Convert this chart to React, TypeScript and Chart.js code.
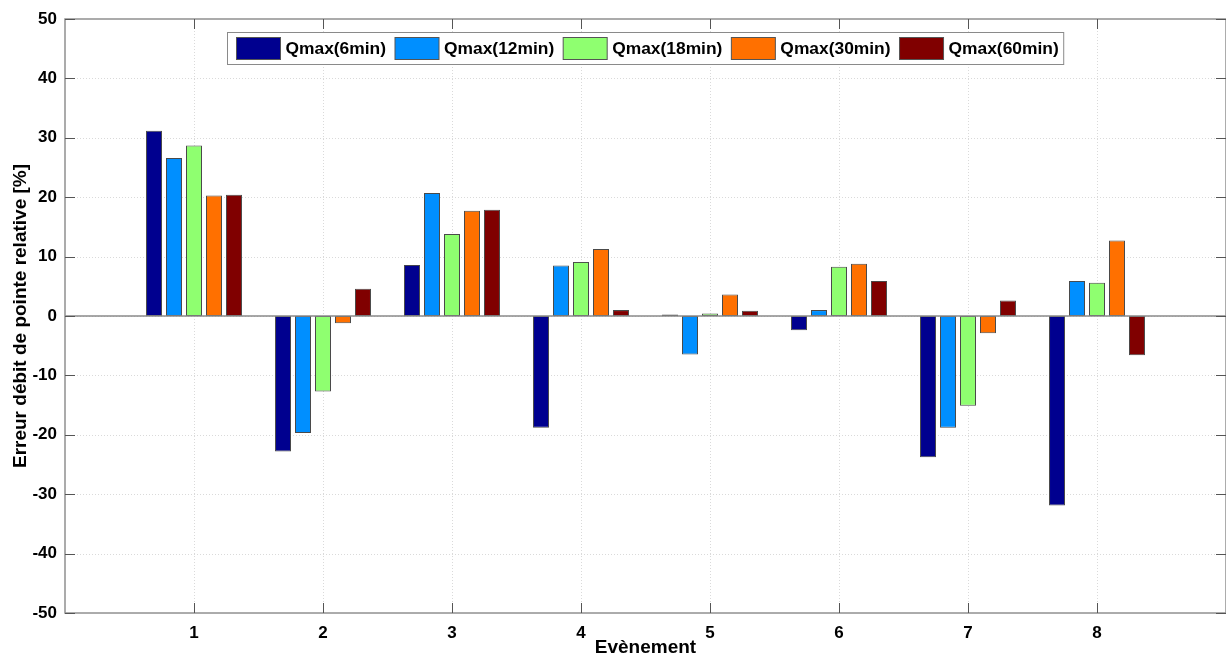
import React, { useEffect, useRef } from "react";
import { Chart, registerables } from "chart.js";

Chart.register(...registerables);

const events = [1, 2, 3, 4, 5, 6, 7, 8];
const seriesLabels = ["Qmax(6min)", "Qmax(12min)", "Qmax(18min)", "Qmax(30min)", "Qmax(60min)"];
const q6 = [31.2, -22.8, 8.6, -18.8, 0.25, -2.4, -23.8, -31.9];
const q12 = [26.6, -19.7, 20.7, 8.5, -6.5, 1.0, -18.8, 5.9];
const q18 = [28.7, -12.7, 13.8, 9.1, 0.4, 8.3, -15.1, 5.6];
const q30 = [20.3, -1.2, 17.7, 11.3, 3.6, 8.8, -2.9, 12.7];
const q60 = [20.4, 4.6, 17.9, 1.0, 0.9, 5.9, 2.6, -6.6];
const colors = ["#00008F", "#008FFF", "#8FFF70", "#FF7000", "#800000"];
const yTicks = [-50, -40, -30, -20, -10, 0, 10, 20, 30, 40, 50];

const FONT = "'Liberation Sans', Arial, sans-serif";

const framePlugin = {
  id: "frame",
  beforeDatasetsDraw(chart: any) {
    const { ctx, chartArea: a, scales } = chart;
    const x = scales.x, y = scales.y;
    ctx.save();
    ctx.strokeStyle = "#dadada";
    ctx.lineWidth = 1;
    ctx.setLineDash([1, 2]);
    yTicks.forEach((v) => {
      if (v === -50 || v === 50) return;
      const py = Math.round(y.getPixelForValue(v)) + 0.5;
      ctx.beginPath();
      ctx.moveTo(a.left, py);
      ctx.lineTo(a.right, py);
      ctx.stroke();
    });
    events.forEach((v) => {
      const px = Math.round(x.getPixelForValue(v)) + 0.5;
      ctx.beginPath();
      ctx.moveTo(px, a.top);
      ctx.lineTo(px, a.bottom);
      ctx.stroke();
    });
    ctx.restore();
  },
  afterDatasetsDraw(chart: any) {
    const { ctx, chartArea: a, scales } = chart;
    const x = scales.x, y = scales.y;
    ctx.save();
    // zero baseline
    ctx.strokeStyle = "#8a8a8a";
    ctx.lineWidth = 1.5;
    const p0 = y.getPixelForValue(0);
    ctx.beginPath();
    ctx.moveTo(a.left, p0);
    ctx.lineTo(a.right, p0);
    ctx.stroke();
    // box
    ctx.strokeStyle = "#909090";
    ctx.lineWidth = 1.5;
    ctx.strokeRect(a.left, a.top, a.right - a.left, a.bottom - a.top);
    // tick marks
    ctx.strokeStyle = "#555";
    ctx.lineWidth = 1;
    yTicks.forEach((v) => {
      const py = Math.round(y.getPixelForValue(v)) + 0.5;
      ctx.beginPath();
      ctx.moveTo(a.left, py);
      ctx.lineTo(a.left + 10, py);
      ctx.moveTo(a.right, py);
      ctx.lineTo(a.right - 10, py);
      ctx.stroke();
    });
    events.forEach((v) => {
      const px = Math.round(x.getPixelForValue(v)) + 0.5;
      ctx.beginPath();
      ctx.moveTo(px, a.bottom);
      ctx.lineTo(px, a.bottom - 10);
      ctx.moveTo(px, a.top);
      ctx.lineTo(px, a.top + 10);
      ctx.stroke();
    });
    // legend
    ctx.font = `bold 17.4px ${FONT}`;
    const padL = 9, padR = 5, sw = 44, sh = 22, gap = 5, itemGap = 9;
    const widths = seriesLabels.map((l) => ctx.measureText(l).width);
    let total = padL + padR;
    widths.forEach((w, i) => {
      total += sw + gap + w + (i < widths.length - 1 ? itemGap : 0);
    });
    const bx = Math.round((a.left + a.right) / 2 - total / 2) + 0.5;
    const by = a.top + 13.5;
    const bh = 32;
    ctx.fillStyle = "#ffffff";
    ctx.fillRect(bx, by, total, bh);
    ctx.strokeStyle = "#8a8a8a";
    ctx.lineWidth = 1;
    ctx.strokeRect(bx, by, total, bh);
    let cx = bx + padL;
    seriesLabels.forEach((l, i) => {
      ctx.fillStyle = colors[i];
      ctx.fillRect(cx, by + 5, sw, sh);
      ctx.strokeStyle = "#555";
      ctx.strokeRect(cx, by + 5, sw, sh);
      ctx.fillStyle = "#000";
      ctx.textBaseline = "middle";
      ctx.textAlign = "left";
      ctx.fillText(l, cx + sw + gap, by + bh / 2 + 1);
      cx += sw + gap + widths[i] + itemGap;
    });
    ctx.restore();
  },
};

export default function App() {
  const ref = useRef<HTMLCanvasElement | null>(null);
  useEffect(() => {
    if (!ref.current) return;
    Chart.defaults.font.family = FONT;
    const all = [q6, q12, q18, q30, q60];
    const chart = new Chart(ref.current, {
      type: "bar",
      data: {
        datasets: all.map((vals, i) => ({
          label: seriesLabels[i],
          data: vals.map((v, j) => ({ x: events[j], y: v })),
          backgroundColor: colors[i],
          borderColor: "#4a4a4a",
          borderWidth: 1,
          borderSkipped: false,
          categoryPercentage: 0.775,
          barPercentage: 0.8,
        })),
      },
      options: {
        animation: false,
        responsive: false,
        maintainAspectRatio: false,
        layout: { padding: { top: 19, right: 0, left: 0, bottom: 0 } },
        plugins: { legend: { display: false }, tooltip: { enabled: false } },
        scales: {
          x: {
            type: "linear",
            min: 0,
            max: 9,
            offset: false,
            grid: { display: false, drawTicks: false, offset: false },
            border: { display: false },
            afterBuildTicks: (s: any) => {
              s.ticks = events.map((v) => ({ value: v }));
            },
            afterFit: (s: any) => {
              s.height = 46;
            },
            ticks: {
              color: "#000",
              padding: 10,
              font: { size: 17, weight: "bold" },
              maxRotation: 0,
              autoSkip: false,
            },
            title: {
              display: true,
              text: "Evènement",
              color: "#000",
              font: { size: 19, weight: "bold" },
              padding: { top: 0, bottom: 0 },
            },
          },
          y: {
            type: "linear",
            min: -50,
            max: 50,
            grid: { display: false, drawTicks: false },
            border: { display: false },
            afterFit: (s: any) => {
              s.width = 65;
            },
            ticks: {
              stepSize: 10,
              color: "#000",
              padding: 8,
              font: { size: 17, weight: "bold" },
            },
            title: {
              display: true,
              text: "Erreur débit de pointe relative [%]",
              color: "#000",
              font: { size: 19, weight: "bold" },
              padding: { top: 9, bottom: 0 },
            },
          },
        },
      },
      plugins: [framePlugin],
    } as any);
    return () => chart.destroy();
  }, []);
  return (
    <div style={{ position: "absolute", left: 0, top: 0, width: 1226, height: 659, background: "#fff" }}>
      <canvas ref={ref} width={1226} height={659} style={{ display: "block" }} />
    </div>
  );
}
